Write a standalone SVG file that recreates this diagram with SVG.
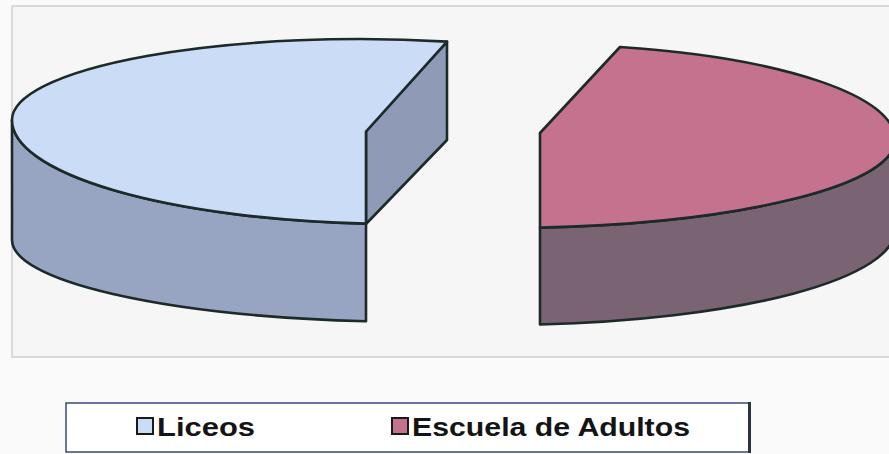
<svg xmlns="http://www.w3.org/2000/svg" width="889" height="454" viewBox="0 0 889 454">
  <style>
    .edge { stroke: #1c2a2a; stroke-width: 2.6; stroke-linejoin: round; }
    .liceos-top { fill: #cbdcf6; }
    .liceos-side { fill: #97a5c3; }
    .liceos-cut { fill: #8f9ab6; }
    .adult-top { fill: #c4728e; }
    .adult-side { fill: #7a6372; }
    .legend-text { font-family: "Liberation Sans", Arial, sans-serif; font-weight: bold; font-size: 26px; fill: #141414; }
  </style>
  <rect x="0" y="0" width="889" height="454" fill="#fafafa"/>
  <g id="plot-area">
    <rect x="12" y="6" width="900" height="351" fill="#f6f6f6" stroke="#cfcfcf" stroke-width="1.5"/>
  </g>
  <g id="slice-liceos">
    <path class="liceos-side edge" d="M 12,120 A 388 104 0 0 0 366,223.6 L 366,321.3 A 408 82 0 0 1 12,240 Z"/>
    <path class="liceos-cut edge" d="M 366,131.5 L 447,41.6 L 447,140 L 366,224 Z"/>
    <path class="liceos-top edge" d="M 12,120 A 348 81 0 0 1 447,41.6 L 366,131.5 L 366,223.6 A 388 104 0 0 1 12,120 Z"/>
  </g>
  <g id="slice-adultos">
    <path class="adult-side edge" d="M 540,227.6 A 395 88 0 0 0 895,140 L 895,230 A 395 95 0 0 1 540,324.5 Z"/>
    <path class="adult-top edge" d="M 620,47 A 365 95 0 0 1 895,140 A 395 88 0 0 1 540,227.6 L 540,133 Z"/>
  </g>
  <g id="legend">
    <rect x="66" y="403" width="683" height="49" fill="#ffffff" stroke="#3a4a78" stroke-width="1.5"/>
    <line x1="749.5" y1="402" x2="749.5" y2="453" stroke="#2a3340" stroke-width="3"/>
    <rect x="137" y="418" width="16" height="16" class="liceos-top" stroke="#1a1a1a" stroke-width="2"/>
    <text x="157" y="436" class="legend-text" textLength="98" lengthAdjust="spacingAndGlyphs">Liceos</text>
    <rect x="392" y="418" width="16" height="16" class="adult-top" stroke="#1a1a1a" stroke-width="2"/>
    <text x="412" y="436" class="legend-text" textLength="278" lengthAdjust="spacingAndGlyphs">Escuela de Adultos</text>
  </g>
</svg>
